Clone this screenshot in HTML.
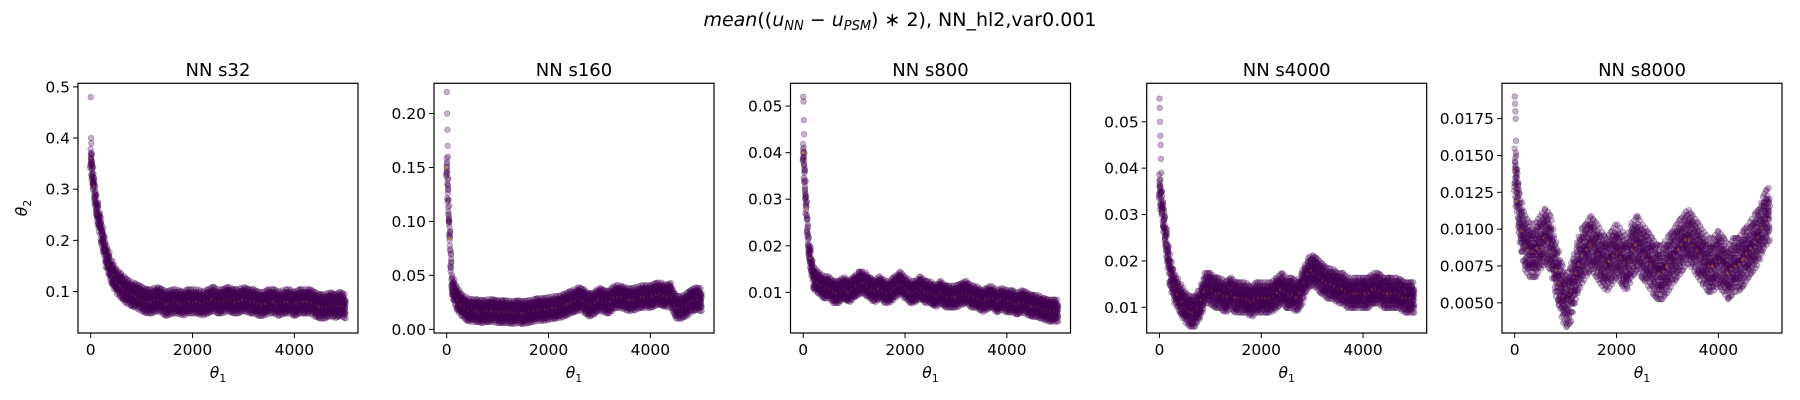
<!DOCTYPE html>
<html><head><meta charset="utf-8"><style>
body{margin:0;background:#fff;}
svg{display:block;font-family:"DejaVu Sans","Liberation Sans",sans-serif;}
</style></head><body>
<svg id="fig" width="1800" height="400" xmlns="http://www.w3.org/2000/svg">
<text x="900" y="26" text-anchor="middle" font-size="19"><tspan font-style="italic">mean</tspan>((<tspan font-style="italic">u</tspan><tspan font-style="italic" font-size="13" dy="4">NN</tspan><tspan dy="-4"> − </tspan><tspan font-style="italic">u</tspan><tspan font-style="italic" font-size="13" dy="4">PSM</tspan><tspan dy="-4">) ∗ 2), NN_hl2,var0.001</tspan></text>
</svg>
<script>
const xTicks=[0,2000,4000];
const thetaStep=100;
const titles=["NN s32","NN s160","NN s800","NN s4000","NN s8000"];
const center1=[0.36,0.27,0.22,0.17,0.14,0.12,0.11,0.10,0.095,0.09,0.085,0.08,0.08,0.085,0.08,0.075,0.08,0.08,0.075,0.08,0.08,0.08,0.075,0.08,0.085,0.08,0.08,0.085,0.08,0.08,0.085,0.08,0.08,0.075,0.075,0.08,0.08,0.075,0.08,0.08,0.075,0.08,0.08,0.08,0.075,0.07,0.07,0.075,0.07,0.075,0.07];
const center2=[0.15,0.04,0.028,0.022,0.018,0.017,0.017,0.016,0.017,0.017,0.016,0.016,0.016,0.015,0.016,0.015,0.016,0.017,0.018,0.018,0.019,0.02,0.02,0.022,0.024,0.026,0.028,0.026,0.022,0.024,0.028,0.025,0.025,0.03,0.03,0.028,0.027,0.028,0.03,0.03,0.03,0.032,0.033,0.03,0.032,0.02,0.02,0.022,0.026,0.028,0.027];
const center3=[0.04,0.02,0.013,0.012,0.011,0.011,0.01,0.01,0.011,0.01,0.011,0.012,0.012,0.011,0.01,0.011,0.01,0.01,0.011,0.012,0.011,0.01,0.01,0.011,0.01,0.01,0.009,0.01,0.009,0.009,0.009,0.0095,0.01,0.009,0.009,0.008,0.0085,0.009,0.008,0.0085,0.008,0.008,0.0075,0.008,0.0075,0.007,0.007,0.0065,0.006,0.006,0.006];
const center4=[0.036,0.027,0.018,0.014,0.012,0.01,0.009,0.009,0.011,0.014,0.014,0.013,0.013,0.012,0.013,0.012,0.012,0.012,0.011,0.012,0.012,0.012,0.012,0.013,0.014,0.013,0.013,0.012,0.014,0.017,0.018,0.017,0.016,0.015,0.015,0.014,0.014,0.013,0.013,0.013,0.013,0.013,0.014,0.014,0.013,0.013,0.013,0.013,0.012,0.012,0.012];
const center5=[0.014,0.0105,0.009,0.0085,0.0085,0.009,0.0095,0.009,0.0075,0.006,0.005,0.0055,0.007,0.008,0.0085,0.009,0.0085,0.008,0.0075,0.008,0.0085,0.008,0.0075,0.0085,0.009,0.0085,0.008,0.0075,0.007,0.007,0.0075,0.008,0.0085,0.009,0.0095,0.009,0.0085,0.008,0.0075,0.0075,0.008,0.0075,0.007,0.0075,0.0075,0.008,0.0085,0.009,0.0095,0.0105,0.011];
const early1=[0.48,0.40,0.39,0.37,0.35,0.33,0.31,0.30];
const early2=[0.22,0.20,0.185,0.17,0.16,0.14,0.12,0.10];
const early3=[0.052,0.051,0.047,0.044,0.040,0.036,0.030,0.027];
const early4=[0.055,0.053,0.050,0.047,0.045,0.042,0.039,0.035];
const early5=[0.019,0.0185,0.018,0.0175,0.016,0.015,0.014,0.0135];
const spreads=[0.018,0.008,0.0018,0.0025,0.0014];
const yTicks=[[0.1,0.2,0.3,0.4,0.5],[0,0.05,0.1,0.15,0.2],[0.01,0.02,0.03,0.04,0.05],[0.01,0.02,0.03,0.04,0.05],[0.005,0.0075,0.01,0.0125,0.015,0.0175]];
const yLabels=[["0.1","0.2","0.3","0.4","0.5"],["0.00","0.05","0.10","0.15","0.20"],["0.01","0.02","0.03","0.04","0.05"],["0.01","0.02","0.03","0.04","0.05"],["0.0050","0.0075","0.0100","0.0125","0.0150","0.0175"]];
const yRanges=[[0.019,0.507],[-0.0034,0.228],[0.00127,0.0549],[0.00446,0.0583],[0.00295,0.0199]];
const centers=[center1,center2,center3,center4,center5];
const earlies=[early1,early2,early3,early4,early5];
const offsets=[-1,-0.55,-0.2,0.1,0.4,0.75,1.05,-0.8,0.25,-0.35,0.6,1.35,-0.05,-1.25,0.9,-0.65,0.15];
const lefts=[78,434,790.5,1146.7,1502];
const axTop=83.3,axBottom=333,W=280,xMin=-250,xMax=5250;
const NS="http://www.w3.org/2000/svg";
const svg=document.getElementById('fig');
function mk(t,a,p){const e=document.createElementNS(NS,t);for(const k in a)e.setAttribute(k,a[k]);(p||svg).appendChild(e);return e;}
for(let p=0;p<5;p++){
  const L=lefts[p];
  const xs=v=>L+(v-xMin)/(xMax-xMin)*W;
  const ys=v=>axBottom-(v-yRanges[p][0])/(yRanges[p][1]-yRanges[p][0])*(axBottom-axTop);
  const g=mk('g',{});
  
  
  const t=mk('text',{x:L+W/2,y:76,'text-anchor':'middle','font-size':18},g);t.textContent=titles[p];
  
  
  const c=centers[p],s=spreads[p];
  earlies[p].forEach((v,i)=>{
    const d=mk('circle',{cx:xs(i*6),cy:ys(v),r:2.8,fill:'rgba(68,1,84,0.3)',stroke:'rgba(68,1,84,0.35)','stroke-width':0.8},g);
    
    
  });
  for(let i=0;i<c.length;i++){
    const nxt=i+1<c.length?c[i+1]:c[i];
    for(let k=0;k<5;k++){
      const th=i*thetaStep+k*thetaStep/5;
      if(th>5000)continue;
      const base=c[i]+(nxt-c[i])*k/5;
      for(let j=0;j<10;j++){
        const o=offsets[(j*3+k*7+i*5)%offsets.length];
        const d=mk('circle',{cx:xs(th+((j*13)%20)-10),cy:ys(base+o*s),r:2.8,fill:'rgba(68,1,84,0.28)',stroke:'rgba(68,1,84,0.32)','stroke-width':0.8},g);
        
        
      }
      if((i+k)%3==0){
        const d=mk('circle',{cx:xs(th),cy:ys(base),r:1.6,fill:'rgba(230,160,40,0.6)'},g);
        
        
      }
    }
  }
  const fr=mk('rect',{x:L,y:axTop,width:W,height:axBottom-axTop,fill:'none',stroke:'#000','stroke-width':1.2},g);
  
  
  xTicks.forEach(v=>{
    mk('line',{x1:xs(v),x2:xs(v),y1:axBottom,y2:axBottom+5,stroke:'#000'},g);
    const tl=mk('text',{x:xs(v),y:axBottom+22,'text-anchor':'middle','font-size':15.5},g);tl.textContent=v;
    
    
  });
  yTicks[p].forEach((v,i)=>{
    mk('line',{x1:L-5,x2:L,y1:ys(v),y2:ys(v),stroke:'#000'},g);
    const tl=mk('text',{x:L-8,y:ys(v)+5.5,'text-anchor':'end','font-size':15.5},g);tl.textContent=yLabels[p][i];
    
    
  });
  const xl=mk('text',{x:L+W/2,y:378,'text-anchor':'middle','font-size':15.5,'font-style':'italic'},g);
  xl.innerHTML='θ<tspan font-size="11" dy="4" font-style="normal">1</tspan>';
  
  
}
const yl=mk('text',{x:0,y:0,'text-anchor':'middle','font-size':15.5,'font-style':'italic',transform:'translate(27,208) rotate(-90)'});
yl.innerHTML='θ<tspan font-size="11" dy="4" font-style="normal">2</tspan>';


</script>
</body></html>
